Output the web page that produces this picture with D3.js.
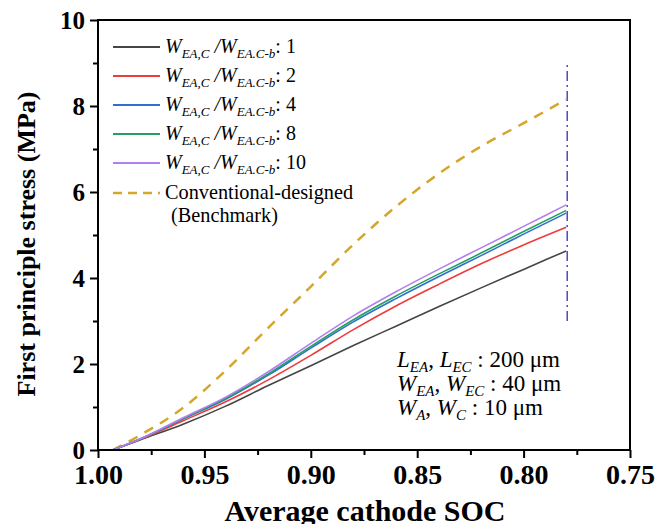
<!DOCTYPE html>
<html><head><meta charset="utf-8">
<script src="https://cdnjs.cloudflare.com/ajax/libs/d3/7.8.5/d3.min.js"></script>
<style>body{margin:0;background:#fff}svg{display:block}text{font-family:"Liberation Serif","Times New Roman",serif}</style>
</head><body>
<script>
const soc = [0.993, 0.98, 0.96, 0.94, 0.92, 0.90, 0.88, 0.86, 0.84, 0.82, 0.80, 0.78];
const ratios = ["1", "2", "4", "8", "10"];
const s1  = [0, 0.24, 0.60, 1.02, 1.50, 1.96, 2.43, 2.88, 3.33, 3.77, 4.20, 4.63];
const s2  = [0, 0.25, 0.68, 1.12, 1.63, 2.20, 2.80, 3.35, 3.85, 4.33, 4.77, 5.18];
const s4  = [0, 0.26, 0.72, 1.18, 1.74, 2.37, 2.98, 3.52, 4.03, 4.52, 5.02, 5.51];
const s8  = [0, 0.26, 0.73, 1.20, 1.77, 2.41, 3.03, 3.58, 4.09, 4.58, 5.08, 5.57];
const s10 = [0, 0.26, 0.75, 1.23, 1.82, 2.48, 3.12, 3.68, 4.20, 4.70, 5.20, 5.70];
const bench = [0, 0.35, 0.98, 1.85, 2.84, 3.80, 4.78, 5.66, 6.42, 7.06, 7.60, 8.15];
const cutoffSOC = 0.7795, cutoffRange = [3.0, 9.0];
const xTicks = [1.00, 0.95, 0.90, 0.85, 0.80, 0.75];
const yTicks = [0, 2, 4, 6, 8, 10];
const colors = ["#454545", "#ee3b3b", "#2e6fd0", "#25a060", "#b27ff0"];

const W = 657, H = 524;
const svg = d3.select("body").append("svg").attr("width", W).attr("height", H);
const x = d3.scaleLinear().domain([1.00, 0.75]).range([98, 630]);
const y = d3.scaleLinear().domain([0, 10]).range([450, 20]);

// lines
const line = d3.line().x((d, i) => x(soc[i])).y(d => y(d)).curve(d3.curveMonotoneX);
const series = [s1, s2, s4, s8, s10];
svg.append("path").datum(bench).attr("d", line).attr("fill", "none")
  .attr("stroke", "#d4a62a").attr("stroke-width", 2.5).attr("stroke-dasharray", "10,8");
series.forEach((s, k) => {
  svg.append("path").datum(s).attr("d", line).attr("fill", "none")
    .attr("stroke", colors[k]).attr("stroke-width", 1.6);
});
svg.append("line").attr("x1", x(cutoffSOC)).attr("x2", x(cutoffSOC))
  .attr("y1", y(cutoffRange[0])).attr("y2", y(cutoffRange[1]))
  .attr("stroke", "#4b4bc8").attr("stroke-width", 1.5).attr("stroke-dasharray", "10,4,2,4");

// frame
svg.append("rect").attr("x", 98).attr("y", 20).attr("width", 532).attr("height", 430)
  .attr("fill", "none").attr("stroke", "#000").attr("stroke-width", 2);

// axes
const xAxis = d3.axisBottom(x).tickValues(xTicks).tickFormat(d3.format(".2f")).tickSize(8).tickPadding(6);
const gx = svg.append("g").attr("transform", "translate(0,450)").call(xAxis);
const xMinor = d3.axisBottom(x).tickValues(d3.range(0, 5).map(i => 0.975 - 0.05 * i)).tickSize(5).tickFormat("");
svg.append("g").attr("transform", "translate(0,450)").call(xMinor);
const yAxis = d3.axisLeft(y).tickValues(yTicks).tickFormat(d3.format("d")).tickSize(8).tickPadding(5);
const gy = svg.append("g").attr("transform", "translate(98,0)").call(yAxis);
const yMinor = d3.axisLeft(y).tickValues([1, 3, 5, 7, 9]).tickSize(5).tickFormat("");
svg.append("g").attr("transform", "translate(98,0)").call(yMinor);
svg.selectAll(".domain").remove();
svg.selectAll(".tick line").attr("stroke", "#000").attr("stroke-width", 2);
gx.selectAll("text").attr("font-size", 28).attr("font-weight", "bold")
  .attr("font-family", "Liberation Serif").attr("fill", "#000");
gy.selectAll("text").attr("font-size", 25).attr("font-weight", "bold")
  .attr("font-family", "Liberation Serif").attr("fill", "#000").attr("dy", "0.35em");

// axis titles
svg.append("text").attr("x", 365).attr("y", 521).attr("text-anchor", "middle")
  .attr("font-size", 30).attr("font-weight", "bold").text("Average cathode SOC");
svg.append("text").attr("transform", "translate(35,244) rotate(-90)").attr("text-anchor", "middle")
  .attr("font-size", 26).attr("font-weight", "bold").text("First principle stress (MPa)");

// legend
const lg = svg.append("g");
const rowY = [47, 76, 105, 134, 163];
ratios.forEach((r, k) => {
  lg.append("line").attr("x1", 113).attr("x2", 160).attr("y1", rowY[k]).attr("y2", rowY[k])
    .attr("stroke", colors[k]).attr("stroke-width", 2);
  const t = lg.append("text").attr("x", 165).attr("y", rowY[k] + 6).attr("font-size", 20);
  t.append("tspan").attr("font-style", "italic").text("W");
  t.append("tspan").attr("font-style", "italic").attr("font-size", 13).attr("dy", 5).text("EA,C");
  t.append("tspan").attr("font-style", "italic").attr("dy", -5).text(" /W");
  t.append("tspan").attr("font-style", "italic").attr("font-size", 13).attr("dy", 5).text("EA.C-b");
  t.append("tspan").attr("dy", -5).text(": " + r);
});
lg.append("line").attr("x1", 113).attr("x2", 160).attr("y1", 193).attr("y2", 193)
  .attr("stroke", "#d4a62a").attr("stroke-width", 2.5).attr("stroke-dasharray", "9,6");
lg.append("text").attr("x", 165).attr("y", 199).attr("font-size", 20.3).text("Conventional-designed");
lg.append("text").attr("x", 171).attr("y", 222).attr("font-size", 20.3).text("(Benchmark)");

// annotation
const ann = [["L", "EA", ", ", "L", "EC", " : 200 μm"], ["W", "EA", ", ", "W", "EC", " : 40 μm"], ["W", "A", ", ", "W", "C", " : 10 μm"]];
ann.forEach((a, k) => {
  const t = svg.append("text").attr("x", 397).attr("y", 367 + k * 24).attr("font-size", 23);
  t.append("tspan").attr("font-style", "italic").text(a[0]);
  t.append("tspan").attr("font-style", "italic").attr("font-size", 15).attr("dy", 5).text(a[1]);
  t.append("tspan").attr("dy", -5).text(a[2]);
  t.append("tspan").attr("font-style", "italic").text(a[3]);
  t.append("tspan").attr("font-style", "italic").attr("font-size", 15).attr("dy", 5).text(a[4]);
  t.append("tspan").attr("dy", -5).text(a[5]);
});
</script>
</body></html>
